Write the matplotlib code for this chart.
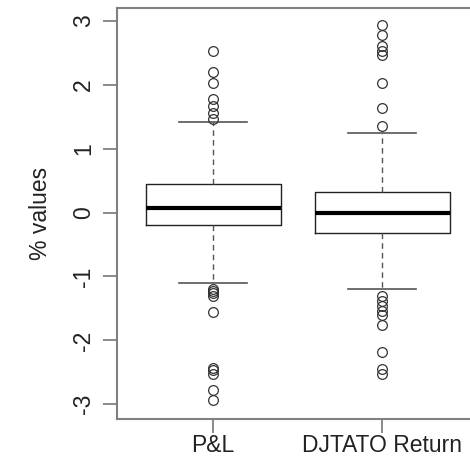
import numpy as np
import matplotlib
matplotlib.use("Agg")
import matplotlib.pyplot as plt

plt.rcParams['font.family'] = ['Liberation Sans', 'DejaVu Sans']

# Box summaries (% values)
labels = ["P&L", "DJTATO Return"]
medians = [0.07, 0.0]
q1 = [-0.19, -0.32]
q3 = [0.45, 0.32]
whisker_low = [-1.11, -1.19]
whisker_high = [1.42, 1.25]

# Outliers beyond the whiskers
pnl_outliers = [2.52, 2.2, 2.03, 1.77, 1.67, 1.56, 1.47,
                -1.19, -1.22, -1.26, -1.31, -1.56,
                -2.43, -2.47, -2.52, -2.78, -2.93]
djtato_outliers = [2.93, 2.78, 2.6, 2.52, 2.47, 2.03, 1.64, 1.35,
                   -1.31, -1.38, -1.46, -1.54, -1.61, -1.76,
                   -2.18, -2.44, -2.52]
outliers = [pnl_outliers, djtato_outliers]

stats = []
for i in range(len(labels)):
    stats.append(dict(med=medians[i], q1=q1[i], q3=q3[i],
                      whislo=whisker_low[i], whishi=whisker_high[i],
                      fliers=np.array(outliers[i]), label=labels[i]))

fig = plt.figure(figsize=(4.7, 4.73), dpi=100)
ax = fig.add_axes([117 / 470, 54 / 473, 363 / 470, 411 / 473])

ax.bxp(stats, positions=[1, 2], widths=0.8, showfliers=True,
       boxprops=dict(color='#222222', linewidth=1.0),
       medianprops=dict(color='black', linewidth=3.0),
       whiskerprops=dict(color='#555555', linewidth=1.0, linestyle=(0, (4, 3))),
       capprops=dict(color='#555555', linewidth=1.2),
       flierprops=dict(marker='o', markersize=7, markerfacecolor='none',
                       markeredgecolor='#333333', markeredgewidth=0.9))

ax.set_xlim(0.43, 2.58)
ax.set_ylim(-3.23, 3.2)
ax.set_yticks([-3, -2, -1, 0, 1, 2, 3])
ax.set_yticklabels(['-3', '-2', '-1', '0', '1', '2', '3'], rotation=90, va='center')
ax.set_xticks([1, 2])
ax.set_xticklabels(labels)

for sp in ax.spines.values():
    sp.set_color('#808080')
    sp.set_linewidth(1.5)
ax.tick_params(axis='both', colors='#808080', length=10, width=1.3,
               labelsize=16.5, labelcolor='#222222')
ax.tick_params(axis='y', pad=6)
ax.tick_params(axis='x', pad=1)
ax.set_ylabel('% values', fontsize=16.5, color='#222222', labelpad=14)

fig.savefig('out.png', dpi=100)
